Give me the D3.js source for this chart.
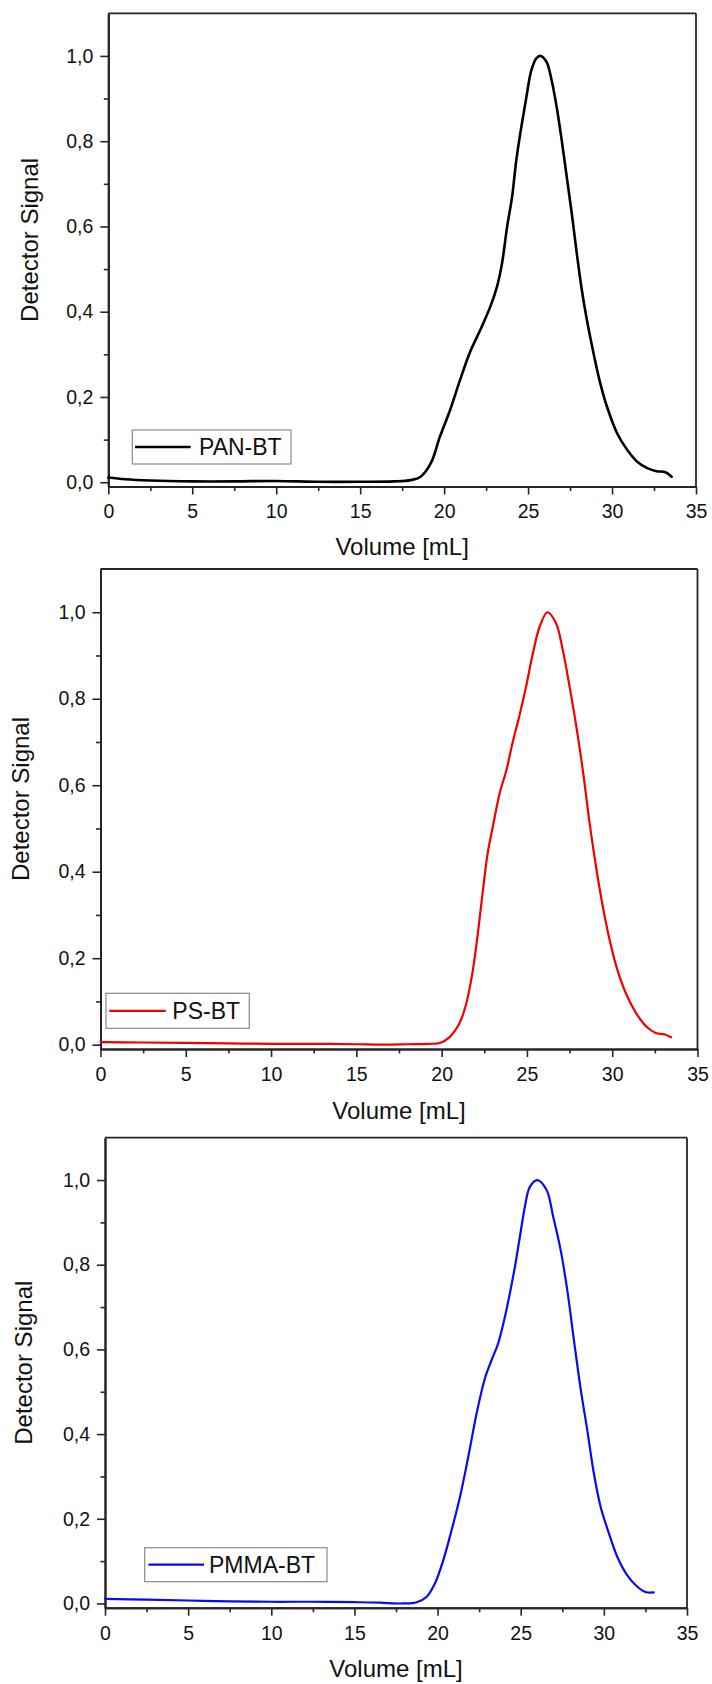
<!DOCTYPE html>
<html>
<head>
<meta charset="utf-8">
<script src="https://cdn.jsdelivr.net/npm/d3@7"></script>
<style>
    body { margin: 0; background: #fff; }
    svg { display: block; font-family: "Liberation Sans", Arial, sans-serif; }
</style>
</head>
<body>
<svg id="chart" width="712" height="1684"></svg>
<script>
// tick values shared by all three panels
var xTicks = [0, 5, 10, 15, 20, 25, 30, 35];
var xMinorTicks = [2.5, 7.5, 12.5, 17.5, 22.5, 27.5, 32.5];
var yTicks = [0, 0.2, 0.4, 0.6, 0.8, 1.0];
var yMinorTicks = [0.1, 0.3, 0.5, 0.7, 0.9];

var xLabel = "Volume [mL]";
var yLabel = "Detector Signal";
var seriesNames = ["PAN-BT", "PS-BT", "PMMA-BT"];

// PAN-BT (black)
var panVolume = [0, 1, 2.5, 5, 7.5, 10, 12.5, 15, 17, 18, 18.6, 19.2, 19.75, 20.35, 20.95, 21.55, 22.15, 22.75, 23.15, 23.45,
    23.75, 24.05, 24.3, 24.6, 24.9, 25.2, 25.5, 25.75, 26.1, 26.4, 26.7, 27.0, 27.3, 27.6, 27.9, 28.2, 28.5, 28.9,
    29.3, 29.7, 30.3, 30.9, 31.5, 32.1, 32.65, 33.15, 33.55];
var panSignal = [0.011, 0.007, 0.004, 0.002, 0.002, 0.003, 0.001, 0.001, 0.002, 0.005, 0.013, 0.044, 0.107, 0.169, 0.24, 0.306, 0.357, 0.412, 0.459, 0.514,
    0.599, 0.67, 0.756, 0.834, 0.904, 0.967, 0.995, 1.0, 0.986, 0.943, 0.881, 0.803, 0.717, 0.631, 0.537, 0.451, 0.381, 0.302,
    0.232, 0.177, 0.115, 0.076, 0.048, 0.033, 0.026, 0.024, 0.013];

// PS-BT (red)
var psVolume = [0, 2.5, 5, 7.5, 10, 12.5, 15, 16.5, 18, 19.2, 19.9, 20.45, 21.05, 21.45, 21.8, 22.1, 22.4, 22.7, 23.0, 23.4,
    23.8, 24.15, 24.55, 24.95, 25.35, 25.75, 26.2, 26.7, 27.1, 27.5, 27.9, 28.3, 28.65, 29.05, 29.45, 29.85, 30.25,
    30.8, 31.4, 32.0, 32.55, 33.05, 33.45];
var psSignal = [0.006, 0.005, 0.004, 0.003, 0.002, 0.002, 0.001, 0.0, 0.001, 0.002, 0.004, 0.017, 0.05, 0.096, 0.165, 0.25, 0.35, 0.443, 0.504, 0.581,
    0.635, 0.697, 0.759, 0.828, 0.905, 0.967, 1.0, 0.975, 0.913, 0.828, 0.735, 0.628, 0.52, 0.412, 0.319, 0.242, 0.18,
    0.119, 0.073, 0.042, 0.027, 0.024, 0.017];

// PMMA-BT (blue)
var pmmaVolume = [0, 2.5, 5, 7.5, 10, 12.5, 15, 16.5, 17.9, 18.75, 19.35, 19.85, 20.35, 20.85, 21.35, 21.85, 22.35, 22.85, 23.25, 23.65,
    24.05, 24.35, 24.65, 24.95, 25.25, 25.55, 26.0, 26.55, 26.95, 27.4, 27.8, 28.2, 28.6, 29.0, 29.4, 29.8, 30.3,
    30.8, 31.4, 32.0, 32.5, 33.0];
var pmmaSignal = [0.011, 0.009, 0.007, 0.005, 0.004, 0.004, 0.003, 0.002, 0.0, 0.003, 0.016, 0.048, 0.103, 0.174, 0.252, 0.347, 0.449, 0.532, 0.575, 0.615,
    0.677, 0.733, 0.795, 0.866, 0.937, 0.984, 1.0, 0.977, 0.914, 0.835, 0.74, 0.622, 0.508, 0.41, 0.307, 0.229, 0.166,
    0.111, 0.067, 0.04, 0.027, 0.026];

// panel layout (pixels)
var panels = [
    {
        volume: panVolume, signal: panSignal, name: seriesNames[0], color: "#000000", width: 2.6,
        left: 108.3, right: 696, top: 13.3, bottom: 486.5, yTitleX: 30, xTitleY: 555,
        legend: {x: 132.3, y: 430, w: 158.7, h: 34, lineX1: 135, lineX2: 190.7, textX: 199}
    },
    {
        volume: psVolume, signal: psSignal, name: seriesNames[1], color: "#f00000", width: 2.2,
        left: 100.5, right: 697.5, top: 569, bottom: 1049, yTitleX: 21, xTitleY: 1118.5,
        legend: {x: 106, y: 993.3, w: 143.3, h: 35, lineX1: 109.3, lineX2: 165.7, textX: 172.3}
    },
    {
        volume: pmmaVolume, signal: pmmaSignal, name: seriesNames[2], color: "#0a0af0", width: 2.2,
        left: 105, right: 687, top: 1137.7, bottom: 1607.7, yTitleX: 24, xTitleY: 1676.5,
        legend: {x: 144.7, y: 1547.7, w: 182.3, h: 34, lineX1: 148.4, lineX2: 204, textX: 209}
    }
];

var svg = d3.select("#chart");
var axisColor = "#262626";
var commaFormat = function (d) {
    return d3.format(".1f")(d).replace(".", ",");
};

function drawPanel(p)
{
    var x = d3.scaleLinear().domain([0, 35]).range([p.left, p.right]);
    var y = d3.scaleLinear().domain([-0.01, 1.1]).range([p.bottom, p.top]);

    var g = svg.append("g");

    // frame top + right
    g.append("line").attr("x1", p.left).attr("x2", p.right).attr("y1", p.top).attr("y2", p.top)
        .attr("stroke", axisColor).attr("stroke-width", 1.8);
    g.append("line").attr("x1", p.right).attr("x2", p.right).attr("y1", p.top).attr("y2", p.bottom)
        .attr("stroke", axisColor).attr("stroke-width", 1.8);

    // minor ticks first so the major axis sits on top
    g.append("g").attr("transform", "translate(0," + p.bottom + ")")
        .call(d3.axisBottom(x).tickValues(xMinorTicks).tickSize(4.5).tickSizeOuter(0).tickFormat(""));
    g.append("g").attr("transform", "translate(" + p.left + ",0)")
        .call(d3.axisLeft(y).tickValues(yMinorTicks).tickSize(4.5).tickSizeOuter(0).tickFormat(""));

    g.append("g").attr("transform", "translate(0," + p.bottom + ")")
        .call(d3.axisBottom(x).tickValues(xTicks).tickSize(8).tickSizeOuter(0).tickPadding(10).tickFormat(d3.format("d")));
    g.append("g").attr("transform", "translate(" + p.left + ",0)")
        .call(d3.axisLeft(y).tickValues(yTicks).tickSize(8).tickSizeOuter(0).tickPadding(7).tickFormat(commaFormat));

    g.selectAll(".domain").attr("stroke", axisColor).attr("stroke-width", 2);
    g.selectAll(".tick line").attr("stroke", axisColor).attr("stroke-width", 1.6);
    g.selectAll(".tick text").attr("font-size", 19.5).attr("fill", "#111")
        .attr("font-family", "'Liberation Sans', Arial, sans-serif");

    // axis titles
    g.append("text")
        .attr("x", (p.left + p.right) / 2).attr("y", p.xTitleY)
        .attr("text-anchor", "middle").attr("font-size", 24).attr("fill", "#111")
        .text(xLabel);
    g.append("text")
        .attr("transform", "translate(" + p.yTitleX + "," + ((p.top + p.bottom) / 2 - 10) + ") rotate(-90)")
        .attr("dy", "0.35em")
        .attr("text-anchor", "middle").attr("font-size", 24).attr("fill", "#111")
        .text(yLabel);

    // the curve
    var points = p.volume.map(function (v, i) {
        return [v, p.signal[i]];
    });
    var line = d3.line()
        .x(function (d) { return x(d[0]); })
        .y(function (d) { return y(d[1]); })
        .curve(d3.curveCatmullRom.alpha(0.5));
    g.append("path").datum(points)
        .attr("d", line)
        .attr("fill", "none")
        .attr("stroke", p.color)
        .attr("stroke-width", p.width)
        .attr("stroke-linejoin", "round")
        .attr("stroke-linecap", "round");

    // legend
    var L = p.legend;
    var midY = L.y + L.h / 2;
    g.append("rect").attr("x", L.x).attr("y", L.y).attr("width", L.w).attr("height", L.h)
        .attr("fill", "#fff").attr("stroke", "#8a8a8a").attr("stroke-width", 1.2);
    g.append("line").attr("x1", L.lineX1).attr("x2", L.lineX2).attr("y1", midY).attr("y2", midY)
        .attr("stroke", p.color).attr("stroke-width", p.width);
    g.append("text").attr("x", L.textX).attr("y", midY).attr("dy", "0.35em")
        .attr("font-size", 23).attr("fill", "#111")
        .text(p.name);
}

panels.forEach(drawPanel);
</script>
</body>
</html>
